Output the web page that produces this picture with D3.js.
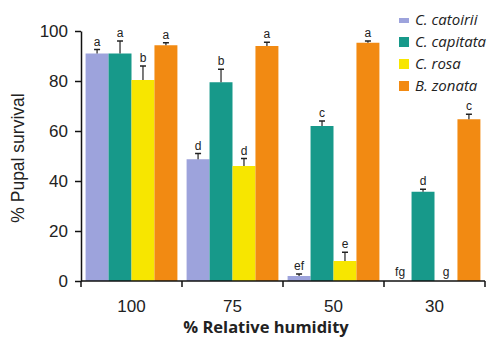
<html>
<head>
<style>
  body { margin: 0; background: #fff; }
  text { font-family: "Liberation Sans", Arial, sans-serif; }
</style>
</head>
<body>
<script src="https://d3js.org/d3.v7.min.js"></script>
<script>
var humidity = ['100', '75', '50', '30']
var species = ['C. catoirii', 'C. capitata', 'C. rosa', 'B. zonata']
var colors = ['#9da3dc', '#17998a', '#f7e600', '#f28a12']

// survival per species, one value per humidity level
var catoirii = [91, 48.7, 2, 0]
var capitata = [91, 79.5, 62, 35.7]
var rosa = [80.4, 46, 8, 0]
var zonata = [94.3, 94, 95.3, 64.7]

var catoiriiErr = [1.6, 2.3, 0.8, 0]
var capitataErr = [5, 5.2, 2, 1]
var rosaErr = [5.6, 3, 3.5, 0]
var zonataErr = [1, 1.5, 0.7, 2]

var catoiriiLab = ['a', 'd', 'ef', 'fg']
var capitataLab = ['a', 'b', 'c', 'd']
var rosaLab = ['b', 'd', 'e', 'g']
var zonataLab = ['a', 'a', 'a', 'c']

var yTicks = [0, 20, 40, 60, 80, 100]

var values = [catoirii, capitata, rosa, zonata]
var errs = [catoiriiErr, capitataErr, rosaErr, zonataErr]
var labs = [catoiriiLab, capitataLab, rosaLab, zonataLab]

var width = 487, height = 337
var svg = d3.select('body').append('svg')
    .attr('width', width).attr('height', height)

var x = d3.scaleBand().domain(humidity).range([81, 485]).paddingInner(0).paddingOuter(0)
var xs = d3.scaleBand().domain(species).range([0, x.bandwidth()]).paddingOuter(0.2).paddingInner(0)
var y = d3.scaleLinear().domain([0, 100]).range([281, 31])

var groups = svg.selectAll('g.grp')
    .data(humidity)
    .enter().append('g')
    .attr('transform', function(d) { return 'translate(' + x(d) + ',0)' })

groups.each(function(h, i) {
    var g = d3.select(this)
    species.forEach(function(s, j) {
        var v = values[j][i], e = errs[j][i]
        var bx = xs(s), bw = xs.bandwidth()
        if (v > 0) {
            g.append('rect')
                .attr('x', bx).attr('width', bw)
                .attr('y', y(v)).attr('height', y(0) - y(v))
                .attr('fill', colors[j])
        }
        var top = y(v + e)
        if (e > 0) {
            var cx = bx + bw / 2
            g.append('line').attr('x1', cx).attr('x2', cx)
                .attr('y1', y(v)).attr('y2', top)
                .attr('stroke', '#222').attr('stroke-width', 1.2)
            g.append('line').attr('x1', cx - 3).attr('x2', cx + 3)
                .attr('y1', top).attr('y2', top)
                .attr('stroke', '#222').attr('stroke-width', 1.5)
        }
        g.append('text')
            .attr('x', bx + bw / 2)
            .attr('y', v > 0 ? top - 4 : y(0) - 5)
            .attr('text-anchor', 'middle')
            .attr('font-size', 12)
            .attr('fill', '#222')
            .text(labs[j][i])
    })
})

// axes
var yAxis = d3.axisLeft(y).tickValues(yTicks).tickSize(6).tickSizeOuter(0)
var ya = svg.append('g').attr('transform', 'translate(81,0)').call(yAxis)
ya.select('.domain').attr('stroke', '#111').attr('stroke-width', 1.5)
ya.selectAll('.tick line').attr('stroke', '#111').attr('stroke-width', 1.5)
ya.selectAll('.tick text').attr('font-size', 17).attr('fill', '#222').attr('x', -13)
    .attr('font-family', '"Liberation Sans", Arial, sans-serif')

var xa = svg.append('g').attr('transform', 'translate(0,281)')
xa.append('line').attr('x1', 81).attr('x2', 485).attr('stroke', '#111').attr('stroke-width', 1.5)
xa.selectAll('line.tk')
    .data(humidity)
    .enter().append('line')
    .attr('x1', function(d) { return x(d) + x.bandwidth() }).attr('x2', function(d) { return x(d) + x.bandwidth() })
    .attr('y1', 0).attr('y2', 6)
    .attr('stroke', '#111').attr('stroke-width', 1.5)
xa.append('line').attr('x1', 81).attr('x2', 81).attr('y1', 0).attr('y2', 6)
    .attr('stroke', '#111').attr('stroke-width', 1.5)
xa.selectAll('text.lbl')
    .data(humidity)
    .enter().append('text')
    .attr('x', function(d) { return x(d) + x.bandwidth() / 2 })
    .attr('y', 31)
    .attr('text-anchor', 'middle')
    .attr('font-size', 17)
    .attr('fill', '#222')
    .text(function(d) { return d })

svg.append('text')
    .attr('x', 266).attr('y', 333)
    .attr('text-anchor', 'middle')
    .attr('font-size', 16.5).attr('font-weight', 'bold')
    .attr('fill', '#222')
    .style('font-family', '"Open Sans", sans-serif')
    .text('%  Relative humidity')

svg.append('text')
    .attr('transform', 'translate(24,158) rotate(-90)')
    .attr('text-anchor', 'middle')
    .attr('font-size', 17.5)
    .attr('fill', '#222')
    .text('% Pupal survival')

// legend
var leg = svg.selectAll('g.leg')
    .data(species)
    .enter().append('g')
    .attr('transform', function(d, i) { return 'translate(399,' + (20 + i * 22) + ')' })
leg.append('rect')
    .attr('x', 0).attr('y', function(d, i) { return i == 0 ? -2 : -5 })
    .attr('width', 10).attr('height', function(d, i) { return i == 0 ? 5 : 10 })
    .attr('fill', function(d, i) { return colors[i] })
leg.append('text')
    .attr('x', 16).attr('y', 5)
    .attr('font-size', 15).attr('font-style', 'italic')
    .attr('fill', '#222')
    .style('font-family', '"Open Sans", sans-serif')
    .text(function(d) { return d })
</script>
</body>
</html>
